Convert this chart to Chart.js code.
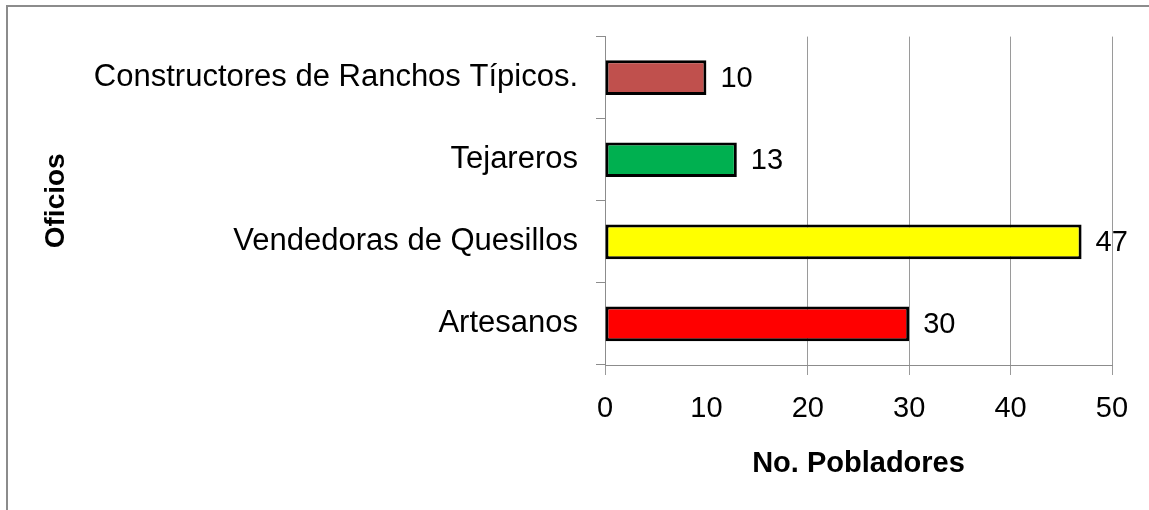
<!DOCTYPE html>
<html>
<head>
<meta charset="utf-8">
<script src="https://cdn.jsdelivr.net/npm/chart.js@4.4.1/dist/chart.umd.min.js"></script>
<style>
  html, body { margin: 0; padding: 0; background: #ffffff; }
  #wrap { position: relative; width: 1149px; height: 510px; overflow: hidden; }
  #frame { position: absolute; left: 6px; top: 5px; width: 1200px; height: 600px;
           border-left: 2px solid #8c8c8c; border-top: 2px solid #8c8c8c; }
  #c { position: absolute; left: 0; top: 0; }
</style>
</head>
<body>
<div id="wrap">
  <div id="frame"></div>
  <canvas id="c" width="1149" height="510"></canvas>
</div>
<script>
// ---- data ----
const categories = ['Constructores de Ranchos Típicos.', 'Tejareros', 'Vendedoras de Quesillos', 'Artesanos'];
const pobladores = [10, 13, 47, 30];
const barColors = ['#C0504D', '#00B050', '#FFFF00', '#FF0000'];
const xTicks = [0, 10, 20, 30, 40, 50];
const xTitle = 'No. Pobladores';
const yTitle = 'Oficios';

const FONT = "'Liberation Sans', Arial, sans-serif";

const valueLabels = {
  id: 'valueLabels',
  afterDatasetsDraw(chart) {
    const ctx = chart.ctx;
    const meta = chart.getDatasetMeta(0);
    ctx.save();
    ctx.font = '29px ' + FONT;
    ctx.fillStyle = '#000';
    ctx.textAlign = 'left';
    ctx.textBaseline = 'middle';
    meta.data.forEach((el, i) => {
      ctx.fillText(String(pobladores[i]), el.x + 14, el.y + 1);
    });
    ctx.restore();
  }
};

new Chart(document.getElementById('c'), {
  type: 'bar',
  data: {
    labels: categories,
    datasets: [{
      data: pobladores,
      backgroundColor: barColors,
      borderColor: '#000000',
      borderWidth: 3,
      borderSkipped: false,
      barPercentage: 0.423,
      categoryPercentage: 1.0
    }]
  },
  options: {
    indexAxis: 'y',
    responsive: false,
    animation: false,
    events: [],
    layout: { padding: { left: 0, top: 34, right: 37, bottom: 0 } },
    plugins: { legend: { display: false }, tooltip: { enabled: false }, title: { display: false } },
    scales: {
      x: {
        min: 0, max: 50,
        afterBuildTicks(scale) { scale.ticks = xTicks.map(v => ({ value: v })); },
        afterFit(scale) { scale.height = 145; },
        ticks: { color: '#000', font: { family: FONT, size: 29 }, padding: 17 },
        grid: {
          color: (c) => (c.tick && c.tick.value === 10) ? 'rgba(0,0,0,0)' : '#9a9a9a',
          lineWidth: 1, drawTicks: true, tickLength: 10
        },
        border: { display: true, color: '#8c8c8c', width: 1 },
        title: { display: true, text: xTitle, color: '#000',
                 font: { family: FONT, size: 29, weight: 'bold' }, padding: { top: 0, bottom: 29 } }
      },
      y: {
        afterFit(scale) { scale.width = 605; },
        ticks: { color: '#000', font: { family: FONT, size: 31 }, padding: 18 },
        grid: { drawOnChartArea: false, drawTicks: true, tickLength: 9, color: '#8c8c8c' },
        border: { display: true, color: '#8c8c8c', width: 1 },
        title: { display: true, text: yTitle, color: '#000',
                 font: { family: FONT, size: 28, weight: 'bold' }, padding: { top: 39, bottom: 0 } }
      }
    }
  },
  plugins: [valueLabels]
});
</script>
</body>
</html>
